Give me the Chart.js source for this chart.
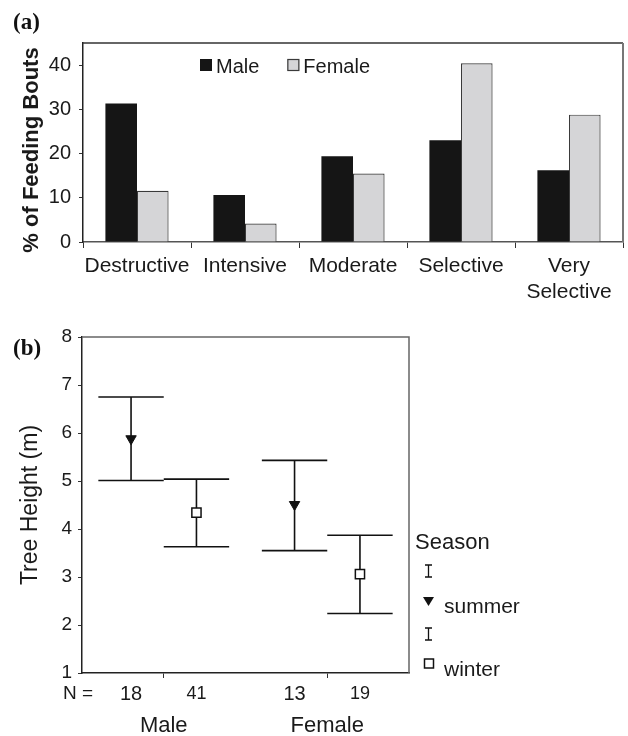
<!DOCTYPE html>
<html>
<head>
<meta charset="utf-8">
<script src="https://cdn.jsdelivr.net/npm/chart.js@4.4.1/dist/chart.umd.min.js"></script>
<style>
  body{margin:0;background:#fff;}
  #wrap{position:relative;width:628px;height:736px;}
  canvas{position:absolute;left:0;}
  #chartA{top:0;}
  #chartB{top:300px;}
</style>
</head>
<body>
<div id="wrap">
  <canvas id="chartA" width="628" height="310"></canvas>
  <canvas id="chartB" width="628" height="436"></canvas>
</div>
<script>
// panel (a): % of feeding bouts by feeding type
const feedingTypes = ['Destructive', 'Intensive', 'Moderate', 'Selective', 'Very Selective'];
const malePct = [31.3, 10.6, 19.4, 23.0, 16.2];
const femalePct = [11.6, 4.2, 15.5, 40.4, 28.8];

// panel (b): tree height, mean and error bar ends, per sex and season
const sexGroups = ['Male', 'Female'];
const summerMean = [5.88, 4.51];
const summerLow = [5.01, 3.55];
const summerHigh = [6.75, 5.43];
const summerN = [18, 13];
const winterMean = [4.34, 3.06];
const winterLow = [3.63, 2.24];
const winterHigh = [5.04, 3.87];
const winterN = [41, 19];

const FONT = '"Liberation Sans", Arial, sans-serif';
const INK = '#1a1a1a';
Chart.defaults.font.family = FONT;
Chart.defaults.color = INK;

const shift = 0.2;   // season offset from the group centre, in x units
const capHalf = 0.2; // half width of error bar caps, in x units

const frameA = {
  id: 'frameA',
  afterDraw(chart) {
    const {ctx, chartArea: {left, top, right, bottom}} = chart;
    ctx.save();
    ctx.strokeStyle = '#333'; ctx.lineWidth = 1.5;
    ctx.beginPath(); ctx.moveTo(left, top); ctx.lineTo(right, top); ctx.stroke();
    ctx.strokeStyle = '#777'; ctx.lineWidth = 2;
    ctx.beginPath(); ctx.moveTo(right, top); ctx.lineTo(right, bottom); ctx.stroke();

    ctx.fillStyle = '#111';
    ctx.font = 'bold 23px "Liberation Serif", serif';
    ctx.textBaseline = 'alphabetic';
    ctx.fillText('(a)', 13, 29);

    // y axis title, a little below the plot centre as in the original
    ctx.save();
    ctx.translate(32, 150);
    ctx.rotate(-Math.PI / 2);
    ctx.textAlign = 'center';
    ctx.textBaseline = 'middle';
    ctx.font = 'bold 22px ' + FONT;
    ctx.fillStyle = INK;
    ctx.fillText('% of Feeding Bouts', 0, 0);
    ctx.restore();

    // legend
    ctx.font = '20px ' + FONT;
    let x = 200;
    chart.data.datasets.forEach(ds => {
      ctx.fillStyle = ds.backgroundColor;
      ctx.fillRect(x, 59, 12, 12);
      if (ds.borderWidth) {
        ctx.strokeStyle = ds.borderColor; ctx.lineWidth = 1.2;
        ctx.strokeRect(x + 0.5, 59.5, 11, 11);
      }
      ctx.fillStyle = INK;
      ctx.fillText(ds.label, x + 16, 73);
      x += 16 + ctx.measureText(ds.label).width + 28;
    });
    ctx.restore();
  }
};

new Chart(document.getElementById('chartA'), {
  type: 'bar',
  data: {
    labels: feedingTypes,
    datasets: [
      {label: 'Male', data: malePct, backgroundColor: '#151515', borderColor: '#151515', borderWidth: 0},
      {label: 'Female', data: femalePct, backgroundColor: '#d5d5d7', borderColor: '#3a3a3a', borderWidth: 1.2}
    ]
  },
  options: {
    responsive: false,
    animation: false,
    datasets: {bar: {categoryPercentage: 0.585, barPercentage: 1}},
    layout: {padding: {top: 43, right: 5, left: 0, bottom: 0}},
    plugins: {legend: {display: false}, tooltip: {enabled: false}},
    scales: {
      x: {
        grid: {offset: true, drawOnChartArea: false, tickLength: 6, color: '#333'},
        border: {color: '#555', width: 1.5},
        ticks: {
          font: {size: 21}, color: INK, padding: 6, maxRotation: 0, autoSkip: false,
          callback(v) { const l = this.getLabelForValue(v); return l.includes(' ') ? l.split(' ') : l; }
        },
        afterFit(s) { s.height = 68; }
      },
      y: {
        min: 0, max: 45,
        ticks: {stepSize: 5, font: {size: 20}, color: INK, padding: 8,
          callback: v => (v % 10 === 0 ? v : '')},
        grid: {drawOnChartArea: false, tickLength: 4, color: '#333'},
        border: {color: '#222', width: 1.5},
        afterFit(s) { s.width = 83; }
      }
    }
  },
  plugins: [frameA]
});

// panel (b)
const seasons = [
  {label: 'summer', mean: summerMean, low: summerLow, high: summerHigh, n: summerN, off: -shift, nSize: 20},
  {label: 'winter', mean: winterMean, low: winterLow, high: winterHigh, n: winterN, off: shift, nSize: 18}
];

const errorBars = {
  id: 'errorBars',
  beforeDatasetsDraw(chart) {
    const {ctx, scales: {x, y}} = chart;
    ctx.save();
    ctx.strokeStyle = '#111'; ctx.lineWidth = 1.6;
    seasons.forEach(s => {
      sexGroups.forEach((g, i) => {
        const pos = i + 1 + s.off;
        const px = x.getPixelForValue(pos);
        const half = x.getPixelForValue(pos + capHalf) - px;
        const yh = y.getPixelForValue(s.high[i]);
        const yl = y.getPixelForValue(s.low[i]);
        ctx.beginPath();
        ctx.moveTo(px, yh); ctx.lineTo(px, yl);
        ctx.moveTo(px - half, yh); ctx.lineTo(px + half, yh);
        ctx.moveTo(px - half, yl); ctx.lineTo(px + half, yl);
        ctx.stroke();
      });
    });
    ctx.restore();
  },
  afterDraw(chart) {
    const {ctx, chartArea: {left, top, right, bottom}, scales: {x}} = chart;
    ctx.save();
    ctx.strokeStyle = '#666'; ctx.lineWidth = 1.5;
    ctx.beginPath();
    ctx.moveTo(left, top); ctx.lineTo(right, top); ctx.lineTo(right, bottom);
    ctx.stroke();

    ctx.fillStyle = '#111';
    ctx.font = 'bold 23px "Liberation Serif", serif';
    ctx.fillText('(b)', 13, 55);

    // sample sizes under the axis
    ctx.fillStyle = INK;
    ctx.textBaseline = 'middle';
    ctx.font = '19px ' + FONT;
    ctx.textAlign = 'left';
    ctx.fillText('N =', 63, bottom + 21);
    ctx.textAlign = 'center';
    seasons.forEach(s => {
      ctx.font = s.nSize + 'px ' + FONT;
      sexGroups.forEach((g, i) => {
        ctx.fillText(String(s.n[i]), x.getPixelForValue(i + 1 + s.off), bottom + 21);
      });
    });

    // legend
    ctx.textAlign = 'left';
    ctx.textBaseline = 'alphabetic';
    ctx.font = '22px ' + FONT;
    ctx.fillText('Season', 415, 249);
    const mini = (cx, y0) => {
      ctx.strokeStyle = '#111'; ctx.lineWidth = 1.3;
      ctx.beginPath();
      ctx.moveTo(cx, y0); ctx.lineTo(cx, y0 + 12);
      ctx.moveTo(cx - 3.5, y0); ctx.lineTo(cx + 3.5, y0);
      ctx.moveTo(cx - 3.5, y0 + 12); ctx.lineTo(cx + 3.5, y0 + 12);
      ctx.stroke();
    };
    const rows = [{bar: 265, mark: 300, text: 313}, {bar: 328, mark: 363.5, text: 376}];
    chart.data.datasets.forEach((ds, k) => {
      const r = rows[k];
      mini(428.5, r.bar);
      ctx.fillStyle = ds.backgroundColor;
      ctx.strokeStyle = ds.borderColor;
      ctx.lineWidth = 1.5;
      if (ds.pointStyle === 'triangle') {
        ctx.beginPath();
        ctx.moveTo(423, r.mark - 3); ctx.lineTo(434, r.mark - 3); ctx.lineTo(428.5, r.mark + 6);
        ctx.closePath(); ctx.fill();
      } else {
        ctx.fillRect(424.5, r.mark - 4.5, 9, 9);
        ctx.strokeRect(424.5, r.mark - 4.5, 9, 9);
      }
      ctx.fillStyle = INK;
      ctx.font = '21px ' + FONT;
      ctx.fillText(ds.label, 444, r.text);
    });
    ctx.restore();
  }
};

new Chart(document.getElementById('chartB'), {
  type: 'scatter',
  data: {
    datasets: [
      {label: seasons[0].label, data: sexGroups.map((g, i) => ({x: i + 1 + seasons[0].off, y: summerMean[i]})),
        pointStyle: 'triangle', rotation: 180, radius: 6, backgroundColor: '#111', borderColor: '#111', borderWidth: 1},
      {label: seasons[1].label, data: sexGroups.map((g, i) => ({x: i + 1 + seasons[1].off, y: winterMean[i]})),
        pointStyle: 'rect', radius: 6.5, backgroundColor: '#fff', borderColor: '#111', borderWidth: 1.5}
    ]
  },
  options: {
    responsive: false,
    animation: false,
    layout: {padding: {top: 37, right: 219, left: 0, bottom: 0}},
    plugins: {legend: {display: false}, tooltip: {enabled: false}},
    scales: {
      x: {
        type: 'linear', min: 0.5, max: 2.5,
        afterBuildTicks(s) { s.ticks = sexGroups.map((g, i) => ({value: i + 1})); },
        ticks: {font: {size: 22}, color: INK, padding: 35, callback: v => sexGroups[v - 1]},
        grid: {drawOnChartArea: false, tickLength: 5, color: '#333'},
        border: {color: '#222', width: 1.5},
        afterFit(s) { s.height = 63; }
      },
      y: {
        min: 1, max: 8,
        ticks: {stepSize: 1, font: {size: 19}, color: INK, padding: 6},
        grid: {drawOnChartArea: false, tickLength: 4, color: '#333'},
        border: {color: '#222', width: 1.5},
        title: {display: true, text: 'Tree Height (m)', color: INK,
          font: {size: 23}, padding: {top: 17, bottom: 0}},
        afterFit(s) { s.width = 82; }
      }
    }
  },
  plugins: [errorBars]
});
</script>
</body>
</html>
